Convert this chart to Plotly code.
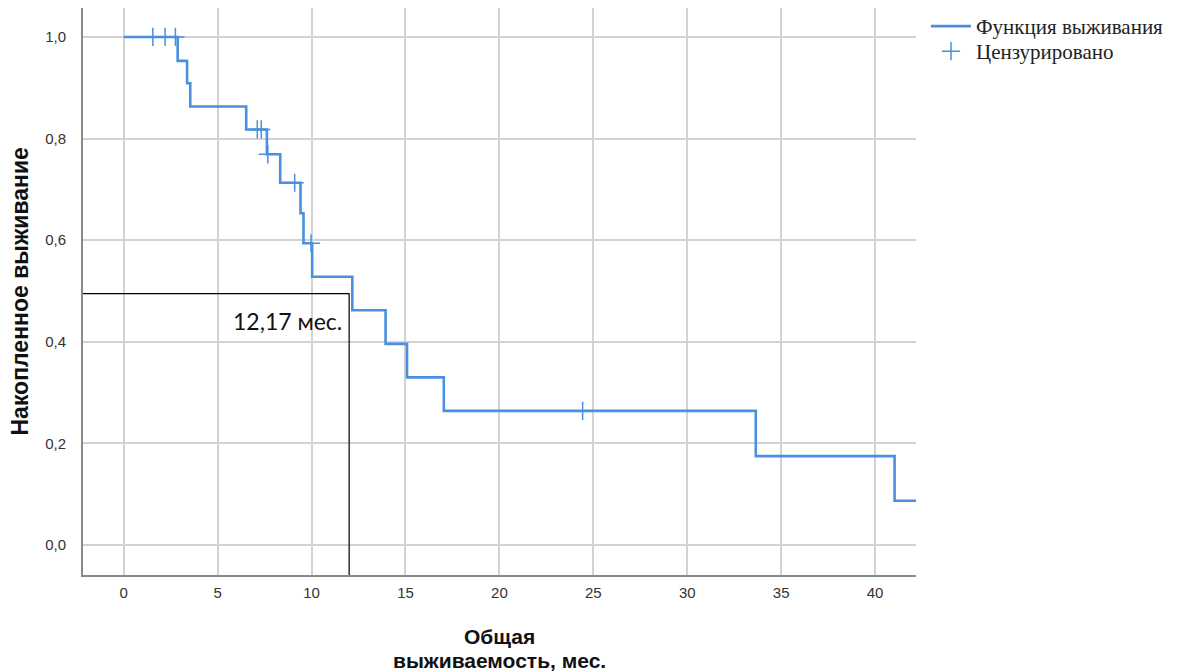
import plotly.graph_objects as go

# Kaplan-Meier step data (months, cumulative survival)
event_times = [0, 2.87, 3.37, 3.54, 6.52, 7.62, 8.33, 9.41, 9.57, 10.03, 12.17, 13.94, 15.08, 17.04, 33.65, 41.04, 42.2]
survival = [1.0, 0.953, 0.909, 0.863, 0.818, 0.769, 0.713, 0.653, 0.594, 0.528, 0.462, 0.396, 0.330, 0.264, 0.175, 0.087, 0.087]

censor_times = [1.55, 2.2, 2.75, 7.11, 7.32, 7.67, 9.1, 9.97, 24.43]
censor_surv = [1.0, 1.0, 1.0, 0.818, 0.818, 0.769, 0.713, 0.594, 0.264]

x_ticks = [0, 5, 10, 15, 20, 25, 30, 35, 40]
y_ticks = [0.0, 0.2, 0.4, 0.6, 0.8, 1.0]
y_tick_labels = ["0,0", "0,2", "0,4", "0,6", "0,8", "1,0"]

median_x = 12.0
median_y = 0.495
median_label = "12,17 мес."

BLUE = "#4a8fe0"
SANS = "Liberation Sans Narrow, Liberation Sans, Arial"
LEG_FONT = dict(family="Liberation Serif, Times New Roman, serif", size=21, color="#222")
fig = go.Figure()

# median reference lines
fig.add_trace(go.Scatter(x=[-2.17, median_x, median_x], y=[median_y, median_y, -0.059],
                         mode="lines", line=dict(color="black", width=1.2),
                         showlegend=False, hoverinfo="skip"))

fig.add_trace(go.Scatter(x=event_times, y=survival, mode="lines", line_shape="hv",
                         line=dict(color=BLUE, width=2.6), name="Функция выживания", legend="legend"))
fig.add_trace(go.Scatter(x=censor_times, y=censor_surv, mode="markers",
                         marker=dict(symbol="cross-thin", size=13, line=dict(color=BLUE, width=1.5), color=BLUE),
                         name="Цензурировано", legend="legend2"))

fig.add_annotation(x=8.74, y=0.441, text=median_label, showarrow=False,
                   font=dict(family="Lato, Open Sans, sans-serif", size=23, color="#111"))

fig.add_annotation(xref="paper", yref="paper", x=0.5, y=0, yshift=-61, text="<b>Общая</b>",
                   showarrow=False, font=dict(family=SANS, size=21, color="#111"),
                   xanchor="center", yanchor="middle")
fig.add_annotation(xref="paper", yref="paper", x=0.5, y=0, yshift=-85, text="<b>выживаемость, мес.</b>",
                   showarrow=False, font=dict(family=SANS, size=21, color="#111"),
                   xanchor="center", yanchor="middle")
fig.add_annotation(xref="paper", yref="paper", x=0, xshift=-64, y=0.5, text="<b>Накопленное выживание</b>",
                   textangle=-90, showarrow=False,
                   font=dict(family="Liberation Sans, Arial", size=23, color="#111"),
                   xanchor="center", yanchor="middle")

fig.update_xaxes(range=[-2.17, 42.18], tickvals=x_ticks, ticktext=[str(v) for v in x_ticks],
                 showgrid=True, gridcolor="#d2d2d2", gridwidth=2, zeroline=False,
                 showline=True, linecolor="#8a8a8a", linewidth=2,
                 tickfont=dict(family=SANS, size=15, color="#333"),
                 ticks="outside", ticklen=3, tickcolor="rgba(0,0,0,0)")
fig.update_yaxes(range=[-0.059, 1.057], tickvals=y_ticks, ticktext=y_tick_labels,
                 showgrid=True, gridcolor="#d2d2d2", gridwidth=2, zeroline=False,
                 showline=True, linecolor="#8a8a8a", linewidth=2,
                 tickfont=dict(family=SANS, size=15, color="#333"),
                 ticks="outside", ticklen=12, tickcolor="rgba(0,0,0,0)")

fig.update_layout(width=1178, height=671, margin=dict(l=75, r=270, t=0, b=104, autoexpand=False),
                  plot_bgcolor="white", paper_bgcolor="white",
                  legend=dict(x=1.012, y=1.0035, xanchor="left", yanchor="top", bgcolor="rgba(0,0,0,0)",
                              font=LEG_FONT, itemwidth=40),
                  legend2=dict(x=1.012, y=0.9594, xanchor="left", yanchor="top", bgcolor="rgba(0,0,0,0)",
                               font=LEG_FONT, itemwidth=40),
                  showlegend=True)

fig.write_html("out.html")
